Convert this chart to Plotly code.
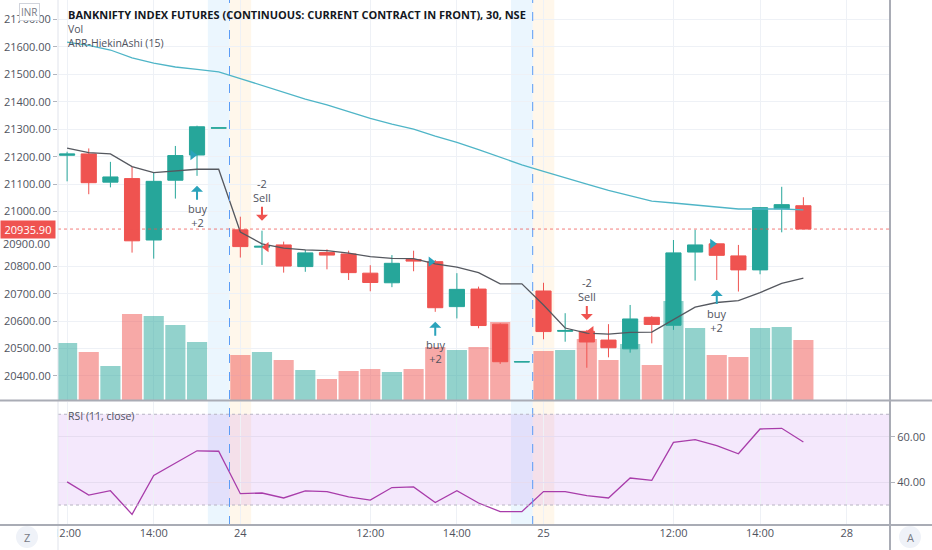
import plotly.graph_objects as go

# BANKNIFTY futures, 30 min bars (23rd afternoon -> 25th), bar index used as x
bars = list(range(35))

op = [21205, 21210, 21107, 21120, 20896, 21114, 21206, 21304, 20933, 20870, 20878, 20799,
      20850, 20845, 20775, 20740, 20825, 20817, 20653, 20717, 20589, 20451, 20710, 20563,
      20563, 20531, 20499, 20614, 20585, 20852, 20882, 20838, 20787, 21010, 21021]
hi = [21218, 21230, 21181, 21163, 21142, 21239, 21313, 21305, 20981, 20930, 20890, 20860,
      20862, 20857, 20804, 20841, 20857, 20823, 20775, 20726, 20592, 20452, 20740, 20629,
      20568, 20589, 20659, 20618, 20896, 20933, 20885, 20878, 21016, 21090, 21052]
lo = [21110, 21063, 21088, 20850, 20828, 21047, 21130, 21304, 20832, 20805, 20777, 20780,
      20789, 20750, 20709, 20724, 20782, 20634, 20610, 20574, 20444, 20451, 20534, 20525,
      20430, 20468, 20485, 20519, 20568, 20748, 20750, 20708, 20771, 20924, 20935.9]
cl = [21210, 21105, 21126, 20893, 21110, 21204, 21309, 21305, 20872, 20873, 20801, 20849,
      20841, 20777, 20741, 20811, 20819, 20649, 20716, 20584, 20452, 20452, 20562, 20566,
      20524, 20503, 20608, 20588, 20849, 20878, 20840, 20787, 21014, 21025, 20935.9]
vol = [57, 48, 34, 86, 84, 75, 58, 0, 45, 48, 40, 30, 21, 29, 31, 28, 31, 53, 50, 53,
       78, 0, 49, 50, 61, 40, 56, 35, 99, 72, 45, 43, 72, 73, 60]  # thousand lots

# ARR-HiekinAshi (15) dark line and the long teal average
arr_line = [21231, 21215, 21210, 21164, 21142, 21148, 21154, 21154, 20925, 20882, 20866, 20860,
            20857, 20848, 20835, 20829, 20828, 20809, 20797, 20777, 20736, 20736, 20659, 20575,
            20556, 20553, 20559, 20560, 20604, 20651, 20668, 20675, 20704, 20738, 20757]
avg_line = [21618, 21606, 21589, 21560, 21541, 21527, 21518, 21509, 21485, 21460, 21435, 21410,
            21389, 21365, 21340, 21319, 21300, 21275, 21252, 21226, 21199, 21170, 21146, 21124,
            21100, 21077, 21057, 21038, 21031, 21024, 21017, 21009, 21009, 21009, 21006]

rsi = [40.2, 34.4, 36.3, 25.9, 43.0, 48.5, 53.9, 53.7, 35.0, 35.3, 33.1, 36.2, 35.9, 33.6,
       32.2, 37.7, 38.0, 31.1, 36.3, 30.9, 27.1, 27.1, 35.9, 35.9, 34.1, 33.1, 41.9, 40.9,
       57.6, 58.8, 56.2, 52.6, 63.5, 63.8, 57.8]

buy_bars = [6, 17, 30]
sell_bars = [9, 24]
last_price = 20935.90

price_ticks = list(range(20400, 21701, 100))
tick_pos = [0, 4, 8, 14, 18, 22, 28, 32, 36]
tick_text = ["12:00", "14:00", "24", "12:00", "14:00", "25", "12:00", "14:00", "28"]

UP, DN = "#26a69a", "#ef5350"
BUY = "#2ba3bb"
TXT = "#50535e"
GRID = "#eef1f6"
FONT = "Open Sans"
W, H = 932, 550

X0, X1 = 58 / W, 890 / W
MAIN = [1 - 400 / H, 1]
RSI_D = [1 - 525 / H, 1 - 402 / H]

vol_col = ["rgba(38,166,154,0.5)" if c >= o else "rgba(239,83,80,0.5)" for o, c in zip(op, cl)]

fig = go.Figure()
fig.add_trace(go.Bar(x=bars, y=vol, marker_color=vol_col, marker_line_width=0, width=0.93,
                     xaxis="x", yaxis="y"))
fig.add_trace(go.Scatter(x=bars, y=avg_line, mode="lines", line=dict(color="#4fb5c7", width=1.3),
                         xaxis="x", yaxis="y2"))
fig.add_trace(go.Candlestick(x=bars, open=op, high=hi, low=lo, close=cl, whiskerwidth=0,
                             increasing=dict(line=dict(color=UP, width=1), fillcolor=UP),
                             decreasing=dict(line=dict(color=DN, width=1), fillcolor=DN),
                             xaxis="x", yaxis="y2"))
fig.add_trace(go.Scatter(x=bars, y=arr_line, mode="lines", line=dict(color="#55585f", width=1.3),
                         xaxis="x", yaxis="y2"))
fig.add_trace(go.Scatter(x=[b - 0.2 for b in buy_bars], y=[op[b] for b in buy_bars], mode="markers",
                         marker=dict(symbol="triangle-right", size=9, color=BUY),
                         xaxis="x", yaxis="y2"))
fig.add_trace(go.Scatter(x=[s + 0.2 for s in sell_bars], y=[op[s] for s in sell_bars], mode="markers",
                         marker=dict(symbol="triangle-left", size=9, color=DN),
                         xaxis="x", yaxis="y2"))
fig.add_trace(go.Scatter(x=bars, y=rsi, mode="lines", line=dict(color="#a83caa", width=1.3),
                         xaxis="x2", yaxis="y3"))

tickfont = dict(family=FONT, size=11, color=TXT)
fig.update_layout(
    width=W, height=H, margin=dict(l=0, r=0, t=0, b=0, autoexpand=False),
    paper_bgcolor="white", plot_bgcolor="white", showlegend=False, boxgap=0.3, boxgroupgap=0,
    font=dict(family=FONT, size=11, color=TXT),
    xaxis=dict(domain=[X0, X1], anchor="y", range=[-0.42, 38], tickvals=tick_pos,
               showticklabels=False, showgrid=True, gridcolor=GRID, zeroline=False,
               rangeslider=dict(visible=False), fixedrange=True, automargin=False),
    yaxis=dict(domain=MAIN, anchor="x", range=[0, 400], visible=False, showgrid=False),
    yaxis2=dict(overlaying="y", anchor="x", side="left", range=[20312.4, 21771.4],
                tickvals=[p for p in price_ticks if p != 20900], tickformat=".2f",
                showgrid=True, gridcolor=GRID, zeroline=False, automargin=False,
                ticks="outside", ticklen=4, tickcolor="#b2b5be", tickfont=tickfont),
    xaxis2=dict(domain=[X0, X1], anchor="y3", matches="x", tickvals=tick_pos, ticktext=tick_text,
                showgrid=True, gridcolor=GRID, zeroline=False, tickfont=tickfont, ticks="",
                automargin=False),
    yaxis3=dict(domain=RSI_D, anchor="x2", side="right", range=[21.2, 75.4], tickvals=[40, 60],
                tickformat=".2f", showgrid=True, gridcolor="#e6dcf0", zeroline=False,
                ticks="outside", ticklen=4, tickcolor="#b2b5be", tickfont=tickfont, automargin=False),
)

shapes = []
# session bands and day separators, spanning both panes
for b in [7, 21]:
    shapes.append(dict(type="rect", xref="x", yref="paper", x0=b - 0.5, x1=b + 0.5,
                       y0=RSI_D[0], y1=1, fillcolor="rgba(33,150,243,0.09)", line_width=0, layer="below"))
    shapes.append(dict(type="rect", xref="x", yref="paper", x0=b + 0.5, x1=b + 1.5,
                       y0=RSI_D[0], y1=1, fillcolor="rgba(255,152,0,0.08)", line_width=0, layer="below"))
    shapes.append(dict(type="line", xref="x", yref="paper", x0=b + 0.5, x1=b + 0.5,
                       y0=RSI_D[0], y1=1, line=dict(color="#5b9cf6", width=1, dash="dash")))
# RSI band
shapes.append(dict(type="rect", xref="x2 domain", yref="y3", x0=0, x1=1, y0=30, y1=70,
                   fillcolor="rgba(155,47,230,0.11)", line_width=0, layer="below"))
for lvl in [30, 70]:
    shapes.append(dict(type="line", xref="x2 domain", yref="y3", x0=0, x1=1, y0=lvl, y1=lvl,
                       line=dict(color="#b8b4c4", width=1, dash="dot")))
# last price line
shapes.append(dict(type="line", xref="paper", yref="y2", x0=X0, x1=X1, y0=last_price, y1=last_price,
                   line=dict(color="rgba(239,83,80,0.75)", width=1, dash="dot")))
# pane separators
shapes.append(dict(type="line", xref="paper", yref="paper", x0=X0, x1=X0, y0=0, y1=1,
                   line=dict(color="#e0e3eb", width=1), layer="above"))
shapes.append(dict(type="line", xref="paper", yref="paper", x0=X1, x1=X1, y0=0, y1=1,
                   line=dict(color="#a9acb5", width=2), layer="above"))
for yp in [MAIN[0] - 0.6 / H, RSI_D[0]]:
    shapes.append(dict(type="line", xref="paper", yref="paper", x0=0, x1=1, y0=yp, y1=yp,
                       line=dict(color="#a9acb5", width=2), layer="above"))
# left time-scale corner hides the clipped label, plus the Z / A buttons
shapes.append(dict(type="rect", xref="paper", yref="paper", x0=0, x1=(X0 - 1 / W), y0=0,
                   y1=RSI_D[0] - 1.5 / H, fillcolor="white", line_width=0, layer="above"))
for cx in [27, 910]:
    shapes.append(dict(type="circle", xref="paper", yref="paper", x0=(cx - 11) / W, x1=(cx + 11) / W,
                       y0=(H - 548) / H, y1=(H - 526) / H, fillcolor="#eff2f8", line_width=0, layer="above"))
fig.update_layout(shapes=shapes)

ann = [
    dict(text="<b>BANKNIFTY INDEX FUTURES (CONTINUOUS: CURRENT CONTRACT IN FRONT), 30, NSE</b>",
         x=66 / W, y=1 - 14 / H, font=dict(size=11, color="#131722")),
    dict(text="Vol", x=66 / W, y=1 - 29 / H),
    dict(text="ARR-HiekinAshi (15)", x=66 / W, y=1 - 43 / H),
    dict(text="RSI (11, close)", x=66 / W, y=1 - 416 / H),
]
for a in ann:
    a.update(xref="paper", yref="paper", xanchor="left", yanchor="middle", showarrow=False)
    a.setdefault("font", dict(size=10.5, color=TXT))

ann.append(dict(text="INR", xref="paper", yref="paper", x=29 / W, y=1 - 12 / H, xanchor="center",
                yanchor="middle", showarrow=False, font=dict(size=10, color="#787b86"),
                bgcolor="white", bordercolor="#d1d4dc", borderwidth=1, borderpad=1))
# 20900 label is nudged below the last-price box, as the price scale does
ann.append(dict(text="20900.00", xref="paper", yref="y2", x=X0 - 6 / W, y=20900, xanchor="right",
                yanchor="middle", yshift=-5, showarrow=False, font=tickfont))
ann.append(dict(text=f"{last_price:.2f}", xref="paper", yref="y2", x=0, y=last_price, xanchor="left",
                yanchor="middle", showarrow=False, width=52, borderpad=1, bgcolor=DN,
                font=dict(size=11, color="white")))
for t, cx in [("Z", 27), ("A", 910)]:
    ann.append(dict(text=t, xref="paper", yref="paper", x=cx / W, y=1 - 537 / H, xanchor="center",
                    yanchor="middle", showarrow=False, font=dict(size=11, color="#787b86")))

for b in buy_bars:
    ann.append(dict(text="buy<br>+2", x=b, y=lo[b], xref="x", yref="y2", showarrow=True,
                    arrowhead=1, arrowsize=1, arrowwidth=2, arrowcolor=BUY, ax=0, ay=30,
                    yshift=-10, font=dict(size=11, color=TXT)))
for s in sell_bars:
    ann.append(dict(text="-2<br>Sell", x=s, y=hi[s], xref="x", yref="y2", showarrow=True,
                    arrowhead=1, arrowsize=1, arrowwidth=2, arrowcolor=DN, ax=0, ay=-30,
                    yshift=10, font=dict(size=11, color=TXT)))
fig.update_layout(annotations=ann)

# page without the default body margin so the figure sits at the window's corner
fig.write_html("out.html", config={"displayModeBar": False},
               post_script="document.body.style.margin='0';")
